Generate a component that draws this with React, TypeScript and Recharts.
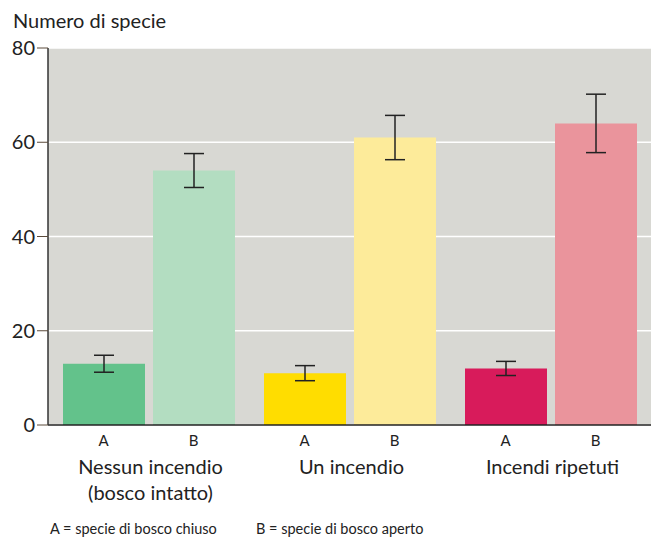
import React from 'react'
import {
  BarChart,
  Bar,
  Cell,
  XAxis,
  YAxis,
  CartesianGrid,
  ErrorBar,
} from 'recharts'

const groups = ['Nessun incendio\n(bosco intatto)', 'Un incendio', 'Incendi ripetuti']
const closedSpecies = [13, 11, 12]
const openSpecies = [54, 61, 64]
const closedError = [1.8, 1.6, 1.5]
const openError = [3.6, 4.7, 6.2]
const closedColors = ['#63c28b', '#ffdd00', '#d81b5b']
const openColors = ['#b3ddc1', '#fdeb9a', '#ea949c']
const yTicks = [0, 20, 40, 60, 80]
const notes = ['A = specie di bosco chiuso', 'B = specie di bosco aperto']

const data = groups.map((g, i) => ({
  group: g,
  a: closedSpecies[i],
  b: openSpecies[i],
  aErr: closedError[i],
  bErr: openError[i],
}))

const FONT = 'Lato, "Open Sans", sans-serif'
const BAR_SIZE = 82
const BAR_GAP = 8

const GroupTick = (props: any) => {
  const { x, y, payload } = props
  const shift = (BAR_SIZE + BAR_GAP) / 2
  const lines = String(payload.value).split('\n')
  return (
    <g fontFamily={FONT} fill='#222'>
      <text x={x - shift} y={y + 13} textAnchor='middle' fontSize={15}>
        A
      </text>
      <text x={x + shift} y={y + 13} textAnchor='middle' fontSize={15}>
        B
      </text>
      {lines.map((l, i) => (
        <text key={i} x={x + 2} y={y + 41 + i * 26} textAnchor='middle' fontSize={20}>
          {l}
        </text>
      ))}
    </g>
  )
}

export default function App() {
  return (
    <div style={{ position: 'absolute', left: 0, top: 0, width: 651, height: 537, background: '#fff' }}>
      <div
        style={{
          position: 'absolute',
          left: 13,
          top: 8,
          fontFamily: FONT,
          fontSize: 20,
          color: '#222',
        }}>
        Numero di specie
      </div>
      <BarChart
        width={651}
        height={537}
        data={data}
        margin={{ top: 48, right: 0, bottom: 32, left: 0 }}
        barGap={BAR_GAP}
        barSize={BAR_SIZE}>
        <CartesianGrid
          vertical={false}
          stroke='#ffffff'
          strokeWidth={1.5}
          fill='#d8d8d3'
        />
        <XAxis
          dataKey='group'
          height={80}
          axisLine={{ stroke: '#222', strokeWidth: 1.5 }}
          tickLine={false}
          interval={0}
          tick={<GroupTick />}
        />
        <YAxis
          width={48}
          domain={[0, 80]}
          ticks={yTicks}
          interval={0}
          tickSize={11}
          tickMargin={2}
          axisLine={{ stroke: '#333', strokeWidth: 1.5 }}
          tickLine={{ stroke: '#5a4a3a' }}
          tick={{ fontSize: 20, fontFamily: FONT, fill: '#222' }}
        />
        <Bar dataKey='a' isAnimationActive={false}>
          {data.map((_, i) => (
            <Cell key={i} fill={closedColors[i]} />
          ))}
          <ErrorBar dataKey='aErr' width={10} stroke='#222' strokeWidth={1.5} />
        </Bar>
        <Bar dataKey='b' isAnimationActive={false}>
          {data.map((_, i) => (
            <Cell key={i} fill={openColors[i]} />
          ))}
          <ErrorBar dataKey='bErr' width={10} stroke='#222' strokeWidth={1.5} />
        </Bar>
      </BarChart>
      {notes.map((n, i) => (
        <div
          key={i}
          style={{
            position: 'absolute',
            left: i === 0 ? 50 : 256,
            top: 520,
            fontFamily: FONT,
            fontSize: 14.5,
            color: '#222',
            whiteSpace: 'pre',
          }}>
          {n}
        </div>
      ))}
    </div>
  )
}
